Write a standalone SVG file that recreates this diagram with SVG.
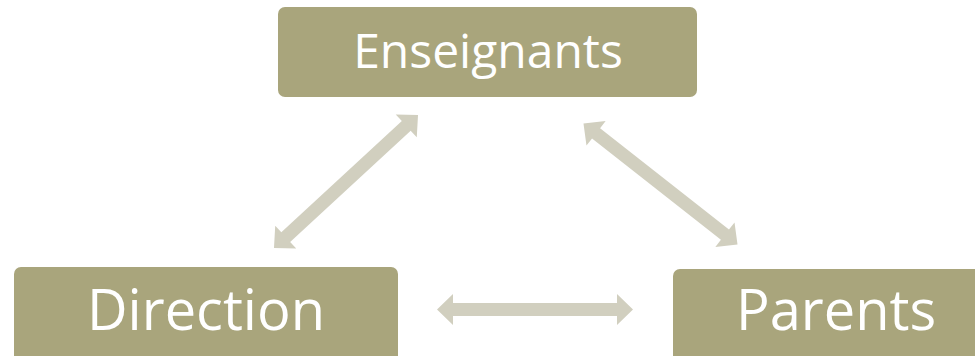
<svg xmlns="http://www.w3.org/2000/svg" width="975" height="356" viewBox="0 0 975 356">
<defs>
<style>
.box{fill:#A9A57C;}
.lbl{fill:#FFFFFF;font-family:"Open Sans","Noto Sans",sans-serif;}
.arr{fill:#D1CFBF;}
</style>
<path id="dbl" d="M-98,0 L-82,-15.5 L-82,-6.5 L82,-6.5 L82,-15.5 L98,0 L82,15.5 L82,6.5 L-82,6.5 L-82,15.5 Z"/>
</defs>
<rect width="975" height="356" fill="#FFFFFF"/>
<g id="connectors" class="arr">
<use href="#dbl" transform="translate(346,181.5) rotate(-42.7)"/>
<use href="#dbl" transform="translate(660.5,184) rotate(38.2)"/>
<use href="#dbl" transform="translate(535,309.5)"/>
</g>
<g id="enseignants">
<rect class="box" x="278" y="7" width="419" height="90" rx="7"/>
<text class="lbl" x="488" y="68" font-size="48" text-anchor="middle">Enseignants</text>
</g>
<g id="direction">
<rect class="box" x="14" y="267" width="384" height="95" rx="7"/>
<text class="lbl" x="206" y="330" font-size="56" text-anchor="middle">Direction</text>
</g>
<g id="parents">
<rect class="box" x="673" y="269" width="384" height="95" rx="7"/>
<text class="lbl" x="736" y="330" font-size="56">Parents</text>
</g>
</svg>
